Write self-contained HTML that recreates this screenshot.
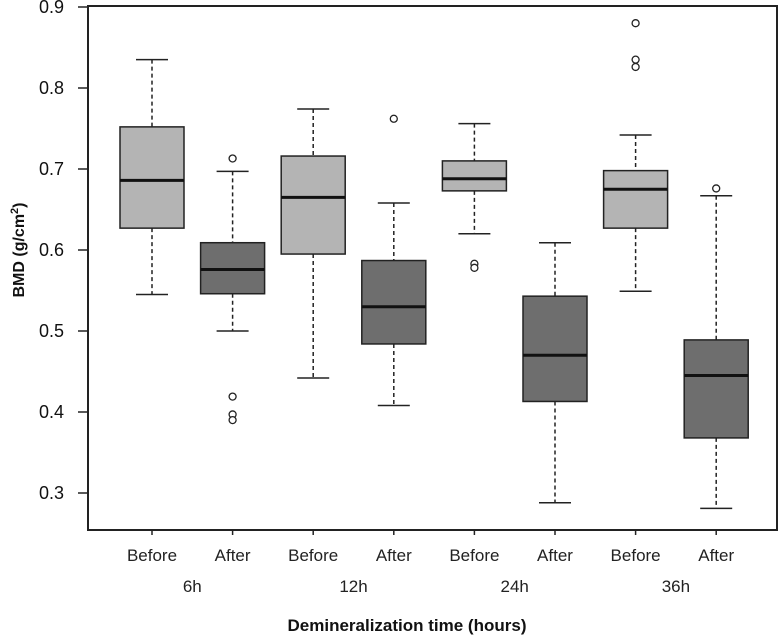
<!DOCTYPE html>
<html><head><meta charset="utf-8"><style>
body{margin:0;background:#fff;}
svg{display:block;font-family:"Liberation Sans",sans-serif;}
</style></head><body>
<svg id="chart" width="780" height="637" viewBox="0 0 780 637">
<rect x="88" y="6" width="689" height="524" fill="none" stroke="#222" stroke-width="2"/>
<g id="yaxis"></g>
<g id="boxes"></g>
<g id="xaxis"></g>
<text x="0" y="0" transform="translate(24,250) rotate(-90)" text-anchor="middle" font-size="16" font-weight="bold" fill="#111">BMD (g/cm<tspan font-size="11" dy="-6">2</tspan><tspan dy="6">)</tspan></text>
<text x="407" y="631" text-anchor="middle" font-size="17" font-weight="bold" fill="#111">Demineralization time (hours)</text>
</svg>
<script>
const categories=["Before","After","Before","After","Before","After","Before","After"];
const groups=["6h","12h","24h","36h"];
const whiskLo=[0.545,0.500,0.442,0.408,0.620,0.288,0.549,0.281];
const q1=[0.627,0.546,0.595,0.484,0.673,0.413,0.627,0.368];
const med=[0.686,0.576,0.665,0.530,0.688,0.470,0.675,0.445];
const q3=[0.752,0.609,0.716,0.587,0.710,0.543,0.698,0.489];
const whiskHi=[0.835,0.697,0.774,0.658,0.756,0.609,0.742,0.667];
const outliers=[[],[0.713,0.419,0.397,0.390],[],[0.762],[0.583,0.578],[],[0.880,0.835,0.826],[0.676]];
const yTicks=[0.3,0.4,0.5,0.6,0.7,0.8,0.9];
const NS="http://www.w3.org/2000/svg";
function y(v){return 7+(0.9-v)*810;}
function x(i){return 152+i*80.6;}
function mk(tag,attrs,parent){const e=document.createElementNS(NS,tag);for(const k in attrs)e.setAttribute(k,attrs[k]);parent.appendChild(e);return e;}
const ya=document.getElementById('yaxis'),bx=document.getElementById('boxes'),xa=document.getElementById('xaxis');
yTicks.forEach(t=>{
 const l=mk('line',{x1:78,x2:88,y1:y(t),y2:y(t),stroke:'#222','stroke-width':1.5},ya);
 
 
 const tx=mk('text',{x:64,y:y(t)+6,'text-anchor':'end','font-size':18,fill:'#111'},ya);
 tx.textContent=t.toFixed(1);
 
 
});
const hw=32;
categories.forEach((c,i)=>{
 const cx=x(i);
 const g=mk('g',{},bx);
 
 
 const fill=i%2===0?'#b4b4b4':'#6e6e6e';
 mk('line',{x1:cx,x2:cx,y1:y(whiskHi[i]),y2:y(q3[i]),stroke:'#222','stroke-width':1.5,'stroke-dasharray':'4,3'},g);
 mk('line',{x1:cx,x2:cx,y1:y(q1[i]),y2:y(whiskLo[i]),stroke:'#222','stroke-width':1.5,'stroke-dasharray':'4,3'},g);
 mk('line',{x1:cx-16,x2:cx+16,y1:y(whiskHi[i]),y2:y(whiskHi[i]),stroke:'#222','stroke-width':1.5},g);
 mk('line',{x1:cx-16,x2:cx+16,y1:y(whiskLo[i]),y2:y(whiskLo[i]),stroke:'#222','stroke-width':1.5},g);
 mk('rect',{x:cx-hw,y:y(q3[i]),width:hw*2,height:y(q1[i])-y(q3[i]),fill:fill,stroke:'#222','stroke-width':1.5},g);
 mk('line',{x1:cx-hw,x2:cx+hw,y1:y(med[i]),y2:y(med[i]),stroke:'#111','stroke-width':3},g);
 outliers[i].forEach(o=>{
  const p=mk('circle',{cx:cx,cy:y(o),r:3.5,fill:'#fff',stroke:'#222','stroke-width':1.3},g);
  
  
 });
 mk('line',{x1:cx,x2:cx,y1:530,y2:535,stroke:'#222','stroke-width':1.5},xa);
 const t=mk('text',{x:cx,y:561,'text-anchor':'middle','font-size':17,fill:'#222'},xa);
 t.textContent=c;
 
 
});
groups.forEach((gname,j)=>{
 const t=mk('text',{x:(x(2*j)+x(2*j+1))/2,y:592,'text-anchor':'middle','font-size':17,fill:'#222'},xa);
 t.textContent=gname;
 
 
});
</script>
</body></html>
